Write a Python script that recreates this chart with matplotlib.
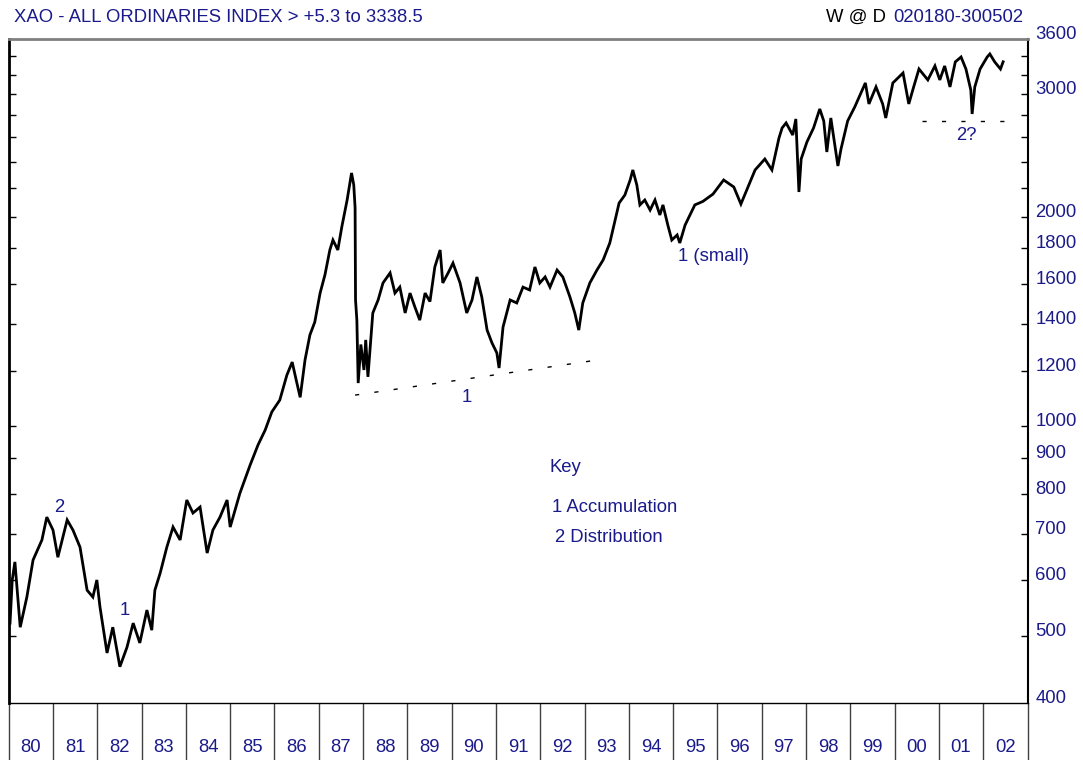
import matplotlib
matplotlib.use("Agg")
import matplotlib.pyplot as plt
from matplotlib.ticker import NullLocator, FixedLocator

plt.rcParams['font.family'] = ['Liberation Sans', 'DejaVu Sans']

NAVY = '#1a1a8a'
FS = 13.3

# ---- data (fractional year, index level) ----
years = [
    1980.03, 1980.08, 1980.14, 1980.26, 1980.41, 1980.55, 1980.75, 1980.86, 1981.00, 1981.11,
    1981.32, 1981.45, 1981.61, 1981.77, 1981.90, 1981.99, 1982.06, 1982.22, 1982.35, 1982.51,
    1982.67, 1982.81, 1982.96, 1983.12, 1983.23, 1983.30, 1983.42, 1983.57, 1983.71, 1983.87,
    1984.02, 1984.16, 1984.32, 1984.48, 1984.61, 1984.77, 1984.93, 1985.00, 1985.22, 1985.45,
    1985.63, 1985.79, 1985.94, 1986.12, 1986.28, 1986.40, 1986.49, 1986.58, 1986.69, 1986.80,
    1986.91, 1987.03, 1987.14, 1987.25, 1987.32, 1987.43, 1987.52, 1987.64, 1987.74, 1987.79,
    1987.82, 1987.83, 1987.86, 1987.89, 1987.95, 1988.02, 1988.06, 1988.11, 1988.22, 1988.34,
    1988.45, 1988.61, 1988.72, 1988.83, 1988.95, 1989.06, 1989.17, 1989.28, 1989.40, 1989.51,
    1989.62, 1989.74, 1989.80, 1989.92, 1990.03, 1990.19, 1990.34, 1990.46, 1990.57, 1990.68,
    1990.80, 1990.91, 1991.02, 1991.07, 1991.16, 1991.32, 1991.47, 1991.61, 1991.76, 1991.88,
    1991.99, 1992.11, 1992.22, 1992.38, 1992.51, 1992.67, 1992.78, 1992.87, 1992.96, 1993.12,
    1993.28, 1993.42, 1993.57, 1993.69, 1993.78, 1993.91, 1994.03, 1994.09, 1994.18, 1994.25,
    1994.36, 1994.48, 1994.59, 1994.70, 1994.77, 1994.88, 1994.97, 1995.09, 1995.15, 1995.27,
    1995.38, 1995.49, 1995.67, 1995.90, 1996.14, 1996.37, 1996.53, 1996.69, 1996.85, 1997.07,
    1997.23, 1997.39, 1997.46, 1997.55, 1997.70, 1997.77, 1997.84, 1997.89, 1998.02, 1998.17,
    1998.31, 1998.40, 1998.47, 1998.56, 1998.72, 1998.79, 1998.94, 1999.10, 1999.34, 1999.42,
    1999.58, 1999.73, 1999.80, 1999.96, 2000.19, 2000.32, 2000.43, 2000.55, 2000.75, 2000.91,
    2001.02, 2001.13, 2001.25, 2001.37, 2001.50, 2001.61, 2001.72, 2001.75, 2001.81, 2001.93,
    2002.09, 2002.15, 2002.26, 2002.39, 2002.45,
]
index_level = [
    521, 601, 638, 514, 568, 642, 686, 740, 709, 648,
    733, 709, 670, 581, 568, 601, 550, 472, 514, 451,
    481, 521, 488, 544, 509, 581, 615, 670, 716, 686,
    783, 750, 765, 657, 709, 740, 783, 716, 801, 879,
    940, 987, 1048, 1090, 1184, 1236, 1165, 1100, 1245, 1352,
    1411, 1553, 1650, 1791, 1851, 1791, 1933, 2113, 2311, 2221,
    2060, 1518, 1420, 1153, 1310, 1204, 1330, 1177, 1454, 1518,
    1606, 1660, 1553, 1584, 1454, 1553, 1483, 1420, 1553, 1510,
    1693, 1791, 1606, 1660, 1715, 1606, 1454, 1518, 1638, 1533,
    1374, 1317, 1274, 1212, 1388, 1518, 1503, 1584, 1569, 1693,
    1606, 1638, 1584, 1676, 1638, 1533, 1454, 1374, 1503, 1606,
    1676, 1733, 1833, 1978, 2092, 2148, 2258, 2334, 2221, 2079,
    2113, 2044, 2113, 2011, 2079, 1945, 1851, 1882, 1833, 1945,
    2011, 2079, 2103, 2155, 2258, 2206, 2085, 2206, 2334, 2420,
    2334, 2595, 2682, 2727, 2620, 2763, 2170, 2420, 2560, 2682,
    2856, 2745, 2477, 2772, 2365, 2502, 2745, 2875, 3113, 2904,
    3072, 2904, 2772, 3113, 3217, 2904, 3072, 3260, 3144, 3293,
    3144, 3293, 3072, 3337, 3392, 3260, 3041, 2809, 3072, 3260,
    3392, 3426, 3337, 3260, 3338.5,
]

year_labels = ['80', '81', '82', '83', '84', '85', '86', '87', '88', '89', '90', '91',
               '92', '93', '94', '95', '96', '97', '98', '99', '00', '01', '02']
year_starts = list(range(1980, 2004))

ytick_values = [3400, 3200, 3000, 2800, 2600, 2400, 2200, 2000, 1800, 1600, 1400, 1200,
                1000, 900, 800, 700, 600, 500]
ylabel_values = [3600, 3000, 2000, 1800, 1600, 1400, 1200, 1000, 900, 800, 700, 600, 500, 400]

# support lines
accum_line_x = [1987.82, 1993.24]
accum_line_y = [1108, 1243]
dist_line_x = [2000.62, 2002.56]
dist_line_y = [2745, 2745]

# ---- figure ----
W, H = 1083, 760
fig = plt.figure(figsize=(W / 100, H / 100), dpi=100)
x0, x1, ytop, ybot = 8.7, 1027.5, 39, 703
ax = fig.add_axes([x0 / W, 1 - ybot / H, (x1 - x0) / W, (ybot - ytop) / H])
ax.set_yscale('log')
ax.set_ylim(400, 3600)
ax.set_xlim(1980, 2003)

ax.plot(years, index_level, color='black', lw=2.0, solid_joinstyle='miter')

ax.plot(accum_line_x, accum_line_y, color='black', lw=1.0, linestyle=(0, (3, 11)))
ax.plot(dist_line_x, dist_line_y, color='black', lw=1.0, linestyle=(0, (3, 11)))

# y ticks
ax.yaxis.set_major_locator(FixedLocator(ytick_values))
ax.yaxis.set_minor_locator(NullLocator())
ax.tick_params(axis='y', which='major', direction='in', length=5, width=1,
               left=True, right=True, labelleft=False, labelright=False, color='black')
ax.set_xticks([])

ytrans = ax.get_yaxis_transform()
for v in ylabel_values:
    ax.text(1.0 + 8 / (x1 - x0), v, str(v), transform=ytrans, ha='left', va='baseline',
            fontsize=FS, color=NAVY, clip_on=False)

# spines
ax.spines['top'].set_color('#808080')
ax.spines['top'].set_linewidth(2)
ax.spines['left'].set_linewidth(2)
ax.spines['left'].set_color('black')
ax.spines['right'].set_linewidth(1.5)
ax.spines['bottom'].set_linewidth(1.0)

# year separators and labels below the axis
xtrans = ax.get_xaxis_transform()
hpx = ybot - ytop
ax.vlines(year_starts, -(H - ybot) / hpx, 0, transform=xtrans, color='#404040', lw=1.0,
          clip_on=False)
for lab, ys in zip(year_labels, year_starts):
    ax.text(ys + 0.5, -(748 - ybot) / hpx, lab, transform=xtrans, ha='center', va='center',
            fontsize=FS, color=NAVY, clip_on=False)

# header texts
fig.text(14 / W, 1 - 17 / H, 'XAO - ALL ORDINARIES INDEX > +5.3 to 3338.5', ha='left',
         va='center', fontsize=FS, color=NAVY)
fig.text(886 / W, 1 - 17 / H, 'W @ D', ha='right', va='center', fontsize=FS, color='black')
fig.text(1023 / W, 1 - 17 / H, '020180-300502', ha='right', va='center', fontsize=FS,
         color=NAVY)

# annotations
ax.text(1981.14, 765, '2', ha='center', va='center', fontsize=FS, color=NAVY)
ax.text(1982.63, 544, '1', ha='center', va='center', fontsize=FS, color=NAVY)
ax.text(1990.35, 1098, '1', ha='center', va='center', fontsize=FS, color=NAVY)
ax.text(1995.11, 1750, '1 (small)', ha='left', va='center', fontsize=FS, color=NAVY)
ax.text(2001.61, 2615, '2?', ha='center', va='center', fontsize=FS, color=NAVY)
ax.text(1992.20, 873, 'Key', ha='left', va='center', fontsize=FS, color=NAVY)
ax.text(1992.27, 765, '1 Accumulation', ha='left', va='center', fontsize=FS, color=NAVY)
ax.text(1992.34, 691, '2 Distribution', ha='left', va='center', fontsize=FS, color=NAVY)

fig.savefig('out.png', dpi=100)
